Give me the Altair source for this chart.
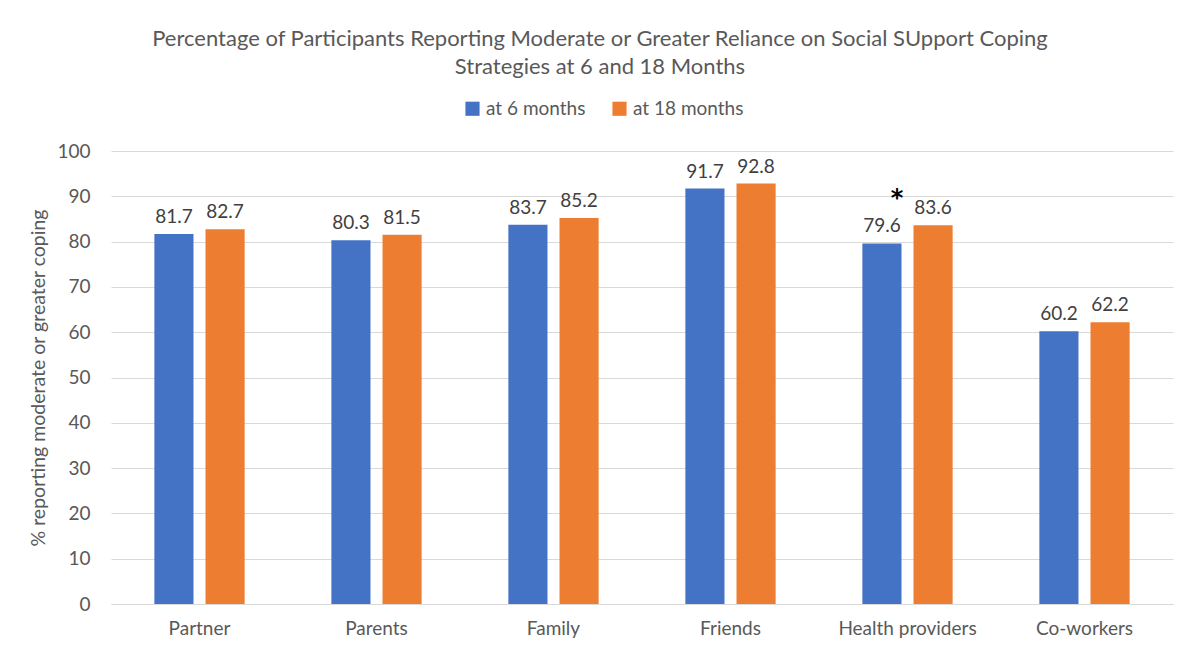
import altair as alt
import pandas as pd

categories = ["Partner", "Parents", "Family", "Friends", "Health providers", "Co-workers"]
series = ["at 6 months", "at 18 months"]
values_6 = [81.7, 80.3, 83.7, 91.7, 79.6, 60.2]
values_18 = [82.7, 81.5, 85.2, 92.8, 83.6, 62.2]
colors = ["#4472C4", "#ED7D31"]
y_ticks = [0, 10, 20, 30, 40, 50, 60, 70, 80, 90, 100]
star_category = "Health providers"
star_value = 89.0

rows = []
for c, a, b in zip(categories, values_6, values_18):
    rows.append({"category": c, "series": series[0], "value": a, "label": f"{a:.1f}"})
    rows.append({"category": c, "series": series[1], "value": b, "label": f"{b:.1f}"})
df = pd.DataFrame(rows)
star_df = pd.DataFrame([{"category": star_category, "series": series[0], "value": star_value, "label": "*"}])

FONT = "Lato"
GREY = "#595959"

x_enc = alt.X("category:N", sort=categories, title=None,
              scale=alt.Scale(paddingInner=0.49, paddingOuter=0.245),
              axis=alt.Axis(labelAngle=0, labelFontSize=19, labelColor=GREY, labelFont=FONT,
                            ticks=False, grid=False, domainColor="#d9d9d9", labelPadding=15))
xoff = alt.XOffset("series:N", sort=series, scale=alt.Scale(paddingInner=0.235, paddingOuter=0))
y_enc = alt.Y("value:Q", scale=alt.Scale(domain=[0, 100]),
              title="% reporting moderate or greater coping",
              axis=alt.Axis(values=y_ticks, labelFontSize=19, labelColor=GREY, labelFont=FONT,
                            ticks=False, domain=False, gridColor="#d9d9d9", labelPadding=21,
                            titleFontSize=19.5, titleFont=FONT, titleColor=GREY,
                            titleFontWeight="normal", titlePadding=8))

bars = alt.Chart(df).mark_bar().encode(
    x=x_enc, xOffset=xoff, y=y_enc,
    color=alt.Color("series:N", sort=series, scale=alt.Scale(domain=series, range=colors),
                    legend=alt.Legend(title=None, orient="none", direction="horizontal",
                                      legendX=352, legendY=-52, symbolType="square",
                                      symbolSize=200, labelFontSize=19, labelFont=FONT,
                                      labelColor=GREY, columnPadding=24, symbolStrokeWidth=0))
)

labels = alt.Chart(df).mark_text(dy=-17, fontSize=19, font=FONT, color="#404040").encode(
    x=alt.X("category:N", sort=categories), xOffset=alt.XOffset("series:N", sort=series),
    y="value:Q", text="label:N"
)

star = alt.Chart(star_df).mark_text(dx=15, dy=-2, fontSize=24, font="DejaVu Sans", fontWeight="bold",
                                    color="#000000").encode(
    x=alt.X("category:N", sort=categories), xOffset=alt.XOffset("series:N", sort=series),
    y="value:Q", text="label:N"
)

chart = alt.layer(bars, labels, star).properties(
    width=1062, height=453,
    title=alt.Title(["Percentage of Participants Reporting Moderate or Greater Reliance on Social SUpport Coping",
                     "Strategies at 6 and 18 Months"],
                    fontSize=22, font=FONT, color=GREY, fontWeight="normal", anchor="middle",
                    dx=-42, offset=20, lineHeight=28),
    autosize=alt.AutoSizeParams(type="none"),
    padding={"left": 103, "top": 143, "right": 5, "bottom": 40},
).configure(background="white").configure_view(stroke=None, strokeWidth=0)

chart.save("out.html", embed_options={"renderer": "svg", "actions": False})
